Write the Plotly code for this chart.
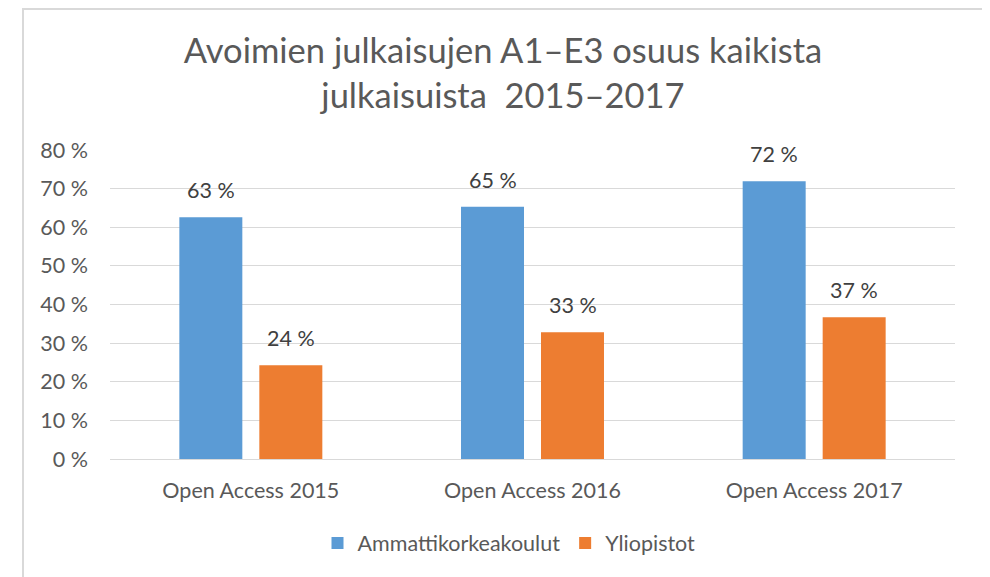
import plotly.graph_objects as go

categories = ["Open Access 2015", "Open Access 2016", "Open Access 2017"]
amk = [62.6, 65.3, 71.9]
yliopistot = [24.3, 32.8, 36.7]
series_names = ["Ammattikorkeakoulut", "Yliopistot"]
y_ticks = [0, 10, 20, 30, 40, 50, 60, 70, 80]
y_tick_labels = [f"{t} %" for t in y_ticks]

FONT = "Lato"
GREY = "#595959"
FS = 21.5
BARGAP = 0.432

# page body margin offset (figure drawn at 8,8)
OFF = 8
W, H = 990 - OFF, 577 - OFF
# target plot area in screenshot coords
X0, X1, Y0, Y1 = 110, 955, 150, 459
L, R, T = X0 - OFF, W - (X1 - OFF), Y0 - OFF
B = H - (Y1 - OFF)
pw, ph = W - L - R, H - T - B

def px(x):
    return (x - X0) / pw

def py(y):
    return (Y1 - y) / ph

fig = go.Figure()
colors = ["#5B9BD5", "#ED7D31"]
for name, vals, col in [(series_names[0], amk, colors[0]), (series_names[1], yliopistot, colors[1])]:
    fig.add_trace(go.Bar(
        x=categories, y=vals, name=name,
        marker=dict(color=col, line=dict(width=0)),
        cliponaxis=False,
    ))

slot = (1 - BARGAP) / 2
for si, vals in enumerate([amk, yliopistot]):
    for ci, v in enumerate(vals):
        fig.add_annotation(
            x=ci + (si - 0.5) * slot, y=v, xref="x", yref="y",
            text=f"{round(v)} %", showarrow=False,
            yanchor="bottom", yshift=12,
            font=dict(family=FONT, size=FS, color="#404040"),
        )

fig.update_layout(
    width=W, height=H,
    margin=dict(l=L, r=R, t=T, b=B),
    paper_bgcolor="white", plot_bgcolor="white",
    barmode="group", bargap=BARGAP, bargroupgap=0.2125,
    title=dict(
        text="Avoimien julkaisujen A1–E3 osuus kaikista<br>julkaisuista  2015–2017",
        font=dict(family=FONT, size=34.5, color=GREY),
        x=px(503), xanchor="center", y=(H - (63 - OFF)) / H, yanchor="middle",
        xref="paper",
    ),
    yaxis=dict(
        range=[0, 80], tickvals=y_ticks, ticktext=y_tick_labels,
        showgrid=True, gridcolor="#D9D9D9", gridwidth=1,
        zeroline=False, showline=False, ticks="",
        tickfont=dict(family=FONT, size=FS, color=GREY),
        ticklabelstandoff=21,
    ),
    xaxis=dict(
        showline=True, linecolor="#D9D9D9", linewidth=1, ticks="",
        tickfont=dict(family=FONT, size=FS, color=GREY),
        ticklabelstandoff=12,
    ),
    legend=dict(
        orientation="h", x=px(509), xanchor="center", y=py(543), yanchor="middle",
        font=dict(family=FONT, size=FS, color=GREY),
        itemwidth=30, traceorder="normal",
    ),
    showlegend=True,
)

fig.add_shape(type="rect", xref="paper", yref="paper",
              x0=px(23), x1=px(984), y0=py(640), y1=py(9),
              line=dict(color="#D9D9D9", width=2), fillcolor="rgba(0,0,0,0)", layer="below")

fig.write_html("out.html")
